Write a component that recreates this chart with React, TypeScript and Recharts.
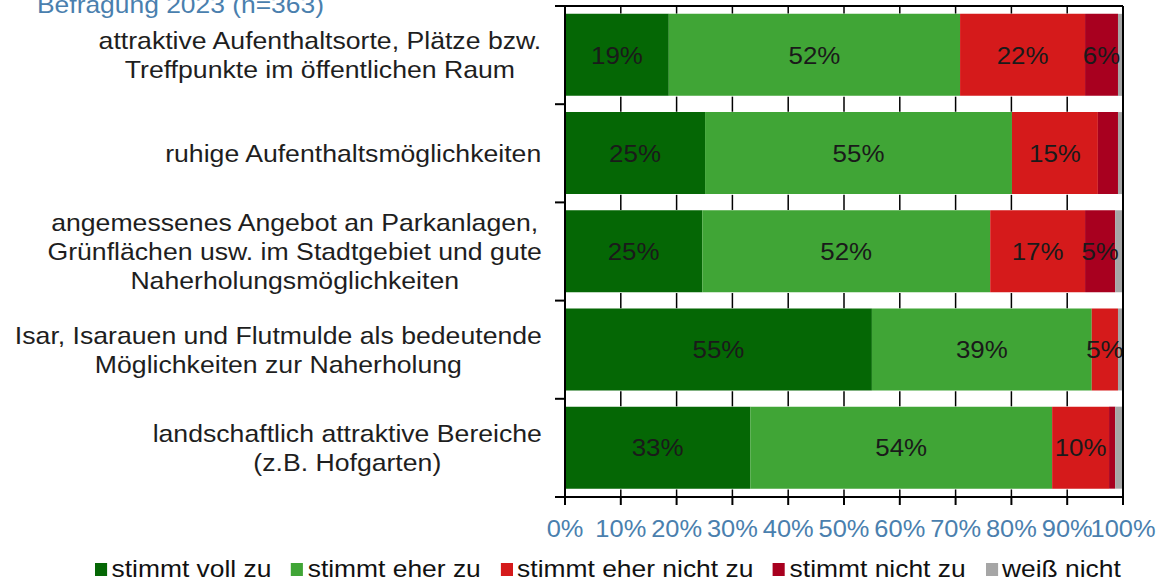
import React from 'react';
import { BarChart, Bar, XAxis, YAxis, LabelList } from 'recharts';

const categories = [
  'attraktive Aufenthaltsorte, Plätze bzw.\nTreffpunkte im öffentlichen Raum',
  'ruhige Aufenthaltsmöglichkeiten',
  'angemessenes Angebot an Parkanlagen,\nGrünflächen usw. im Stadtgebiet und gute\nNaherholungsmöglichkeiten',
  'Isar, Isarauen und Flutmulde als bedeutende\nMöglichkeiten zur Naherholung',
  'landschaftlich attraktive Bereiche\n(z.B. Hofgarten)',
];

const vollZu = [18.6, 25.1, 24.6, 55.0, 33.2];
const eherZu = [52.2, 55.0, 51.6, 39.4, 54.1];
const eherNichtZu = [22.4, 15.4, 17.0, 4.7, 10.2];
const nichtZu = [5.9, 3.6, 5.4, 0, 1.1];
const weissNicht = [0.9, 0.9, 1.4, 0.9, 1.4];

const xTicks = [0, 10, 20, 30, 40, 50, 60, 70, 80, 90, 100];

const seriesNames = ['stimmt voll zu', 'stimmt eher zu', 'stimmt eher nicht zu', 'stimmt nicht zu', 'weiß nicht'];
const seriesKeys = ['voll', 'eher', 'eherNicht', 'nicht', 'weiss'];
const colors = ['#056705', '#40a536', '#d51a1b', '#a8001f', '#a6a6a6'];

const data = categories.map((name, i) => ({
  name,
  voll: vollZu[i],
  eher: eherZu[i],
  eherNicht: eherNichtZu[i],
  nicht: nichtZu[i],
  weiss: weissNicht[i],
}));

const W = 1160;
const H = 582;
const MARGIN = { top: 6, right: 37, left: 0, bottom: 45 };
const Y_W = 565;
const X_H = 40;
const PLOT_L = MARGIN.left + Y_W;
const PLOT_W = W - PLOT_L - MARGIN.right;
const PLOT_T = MARGIN.top;
const PLOT_H = H - MARGIN.top - MARGIN.bottom - X_H;
const GAP = 0.08;

const FONT = '"Liberation Sans", Arial, sans-serif';
const FS = 24;
const SX = 1.1;
const CAT_SX = 1.11;

let ctx: CanvasRenderingContext2D | null = null;
function measure(t: string) {
  if (!ctx) ctx = document.createElement('canvas').getContext('2d');
  if (!ctx) return t.length * FS * 0.5 * CAT_SX;
  ctx.font = `${FS}px ${FONT}`;
  return ctx.measureText(t).width * CAT_SX;
}

const CategoryTick = (props: any) => {
  const { x, y, payload, index, visibleTicksCount } = props;
  const half = payload.offset || 49;
  const top = y - half;
  const isLast = index === visibleTicksCount - 1;
  const lines = String(payload.value).split('\n');
  const maxW = Math.max(...lines.map(measure));
  const cx = x - 23 - maxW / 2;
  const lh = 29;
  const y0 = y - ((lines.length - 1) * lh) / 2;
  return (
    <g>
      <line x1={x - 10} x2={x} y1={top} y2={top} stroke="#000" strokeWidth={2} />
      {isLast && <line x1={x - 10} x2={x} y1={y + half} y2={y + half} stroke="#000" strokeWidth={2} />}
      {lines.map((l, i) => (
        <text
          key={i}
          transform={`translate(${cx},${y0 + i * lh}) scale(${CAT_SX},1)`}
          textAnchor="middle"
          dominantBaseline="central"
          fontFamily={FONT}
          fontSize={FS}
          fill="#1e1e1e"
        >
          {l}
        </text>
      ))}
    </g>
  );
};

const PercentTick = (props: any) => {
  const { x, y, payload } = props;
  return (
    <text
      transform={`translate(${x},${y + 22}) scale(1.06,1)`}
      textAnchor="middle"
      dominantBaseline="central"
      fontFamily={FONT}
      fontSize={FS}
      fill="#4a7fae"
    >
      {payload.value}%
    </text>
  );
};

const SegmentLabel = (props: any) => {
  const { x, y, width, height, value } = props;
  const v = Math.round(Number(value));
  if (v < 5) return null;
  return (
    <text
      transform={`translate(${x + width / 2},${y + height / 2}) scale(1.08,1)`}
      textAnchor="middle"
      dominantBaseline="central"
      fontFamily={FONT}
      fontSize={FS}
      fill="#1a1a1a"
    >
      {v}%
    </text>
  );
};

// grid and frame lines, visible only in the white gaps between the bars
function GridOverlay() {
  const n = categories.length;
  const band = PLOT_H / n;
  const g = band * GAP;
  const boundaries = Array.from({ length: n + 1 }, (_, i) => PLOT_T + i * band);
  const xOf = (t: number) => PLOT_L + (PLOT_W * t) / 100;
  return (
    <svg width={W} height={H} style={{ position: 'absolute', left: 0, top: 0, pointerEvents: 'none' }}>
      {boundaries.map((yb, i) =>
        xTicks.map((t) => (
          <line
            key={`${i}-${t}`}
            x1={xOf(t)}
            x2={xOf(t)}
            y1={i === 0 ? yb : yb - g + 0.3}
            y2={i === n ? yb : yb + g - 0.3}
            stroke="#000"
            strokeWidth={1.5}
          />
        ))
      )}
      <line x1={PLOT_L} x2={xOf(100)} y1={PLOT_T} y2={PLOT_T} stroke="#000" strokeWidth={2} />
      <line x1={xOf(100)} x2={xOf(100)} y1={PLOT_T} y2={PLOT_T + PLOT_H} stroke="#000" strokeWidth={2} />
    </svg>
  );
}

export default function App() {
  return (
    <div style={{ position: 'absolute', left: 0, top: 0, width: W, height: H, background: '#fff', overflow: 'hidden' }}>
      <div
        style={{
          position: 'absolute',
          left: 37,
          top: -9,
          fontFamily: FONT,
          fontSize: FS,
          color: '#4a7fae',
          transform: `scaleX(${SX})`,
          transformOrigin: 'left top',
          whiteSpace: 'nowrap',
        }}
      >
        Befragung 2023 (n=363)
      </div>
      <BarChart width={W} height={H} data={data} layout="vertical" margin={MARGIN} barCategoryGap={`${GAP * 100}%`}>
        <XAxis
          type="number"
          domain={[0, 100]}
          ticks={xTicks}
          interval={0}
          height={X_H}
          tick={<PercentTick />}
          tickLine={{ stroke: '#000', strokeWidth: 2 }}
          tickSize={8}
          axisLine={{ stroke: '#000', strokeWidth: 2 }}
        />
        <YAxis
          type="category"
          dataKey="name"
          width={Y_W}
          interval={0}
          tickSize={0}
          tickMargin={0}
          tick={<CategoryTick />}
          tickLine={false}
          axisLine={{ stroke: '#000', strokeWidth: 2 }}
        />
        {seriesKeys.map((k, i) => (
          <Bar key={k} dataKey={k} name={seriesNames[i]} stackId="a" fill={colors[i]} isAnimationActive={false}>
            <LabelList dataKey={k} content={<SegmentLabel />} />
          </Bar>
        ))}
      </BarChart>
      <GridOverlay />
      <div
        style={{
          position: 'absolute',
          left: 95,
          top: 555,
          display: 'flex',
          alignItems: 'center',
          fontFamily: FONT,
          fontSize: FS,
          color: '#111',
          transform: `scaleX(${SX})`,
          transformOrigin: 'left top',
          whiteSpace: 'nowrap',
        }}
      >
        {seriesNames.map((n, i) => (
          <div key={n} style={{ display: 'flex', alignItems: 'center', marginRight: 18 }}>
            <span style={{ display: 'inline-block', width: 11, height: 13, background: colors[i], marginRight: 4 }} />
            <span>{n}</span>
          </div>
        ))}
      </div>
    </div>
  );
}
